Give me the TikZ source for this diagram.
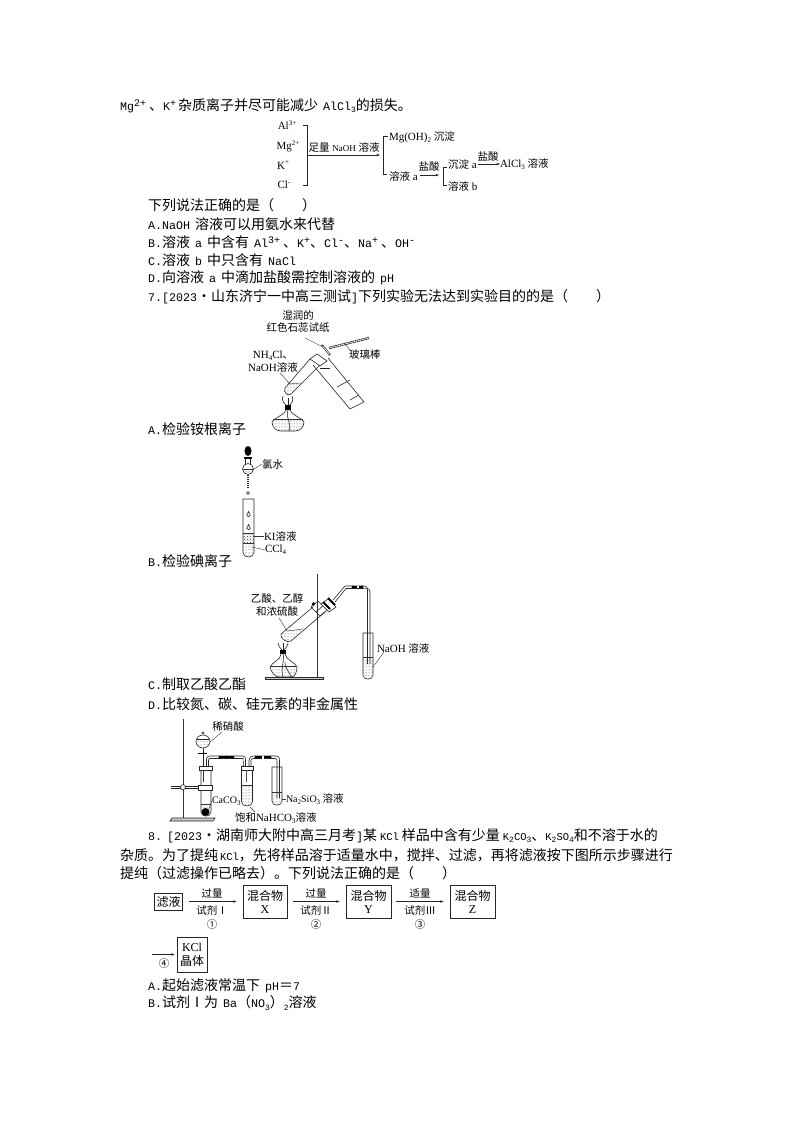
\documentclass[tikz,border=0pt]{standalone}
\usepackage{fontspec}
\usetikzlibrary{arrows.meta,patterns}
\newfontfamily\cjkf{Noto Sans CJK SC}
\newfontfamily\monof{Liberation Mono}
\newfontfamily\serf{Liberation Serif}
\newcommand\Bodyf{\fontsize{11.67}{14}\selectfont\monof\spaceskip=5pt\relax}
\newcommand\Labf{\fontsize{11}{12}\selectfont\serf}
\newcommand\Smf{\fontsize{10}{11}\selectfont\serf}
\newcommand\Up[1]{\raisebox{.36em}{\fontsize{10}{10}\selectfont #1}}
\newcommand\Dn[1]{\raisebox{-.18em}{\fontsize{8}{8}\selectfont #1}}
\newcommand\Sm[1]{{\fontsize{10.5}{10}\selectfont #1}}
\newcommand\LUp[1]{\raisebox{.38em}{\fontsize{7}{7}\selectfont #1}}
\newcommand\LDn[1]{\raisebox{-.2em}{\fontsize{7}{7}\selectfont #1}}
\newcommand\ZB[1]{{\cjkf\fontsize{14}{14}\selectfont #1}}
\newcommand\ZL[1]{{\cjkf\fontsize{10.5}{12}\selectfont #1}}
\newcommand\ZM[1]{{\cjkf\fontsize{12}{15}\selectfont #1}}
\newcommand\SM[1]{{\serf\fontsize{12}{15}\selectfont #1}}
% vertical round-bottomed tube
\newcommand\VT[4]{\draw[ln] (#1-#4,#2) -- (#1-#4,#3-#4) .. controls (#1-#4,#3+.5) and (#1+#4,#3+.5) .. (#1+#4,#3-#4) -- (#1+#4,#2) -- cycle;}
\newcommand\VL[4]{\fill[dotsf] (#1-#4,#2) -- (#1-#4,#3-#4) .. controls (#1-#4,#3+.5) and (#1+#4,#3+.5) .. (#1+#4,#3-#4) -- (#1+#4,#2) -- cycle; \draw[thn] (#1-#4,#2) -- (#1+#4,#2);}
\tikzset{
 x=1pt,y=-1pt,
 tb/.style={anchor=west,inner sep=0pt,outer sep=0pt,font=\Bodyf},
 lb/.style={anchor=west,inner sep=0pt,outer sep=0pt,font=\Labf},
 lc/.style={anchor=center,inner sep=0pt,outer sep=0pt,font=\Labf},
 ln/.style={line width=.6pt,black!85},
 thn/.style={line width=.4pt,black!80},
 arr/.style={line width=.5pt,black!85,-{Stealth[length=3.5pt,width=2.5pt]}},
 bx/.style={draw=black!85,line width=.8pt,inner sep=0pt,align=center},
 rub/.style={line width=2pt,black},
 dotsf/.style={pattern=dots,pattern color=black!75}
}
\begin{document}
\begin{tikzpicture}
\useasboundingbox[fill=white] (0,0) rectangle (794,1123);
% --- body text
\node[tb] (t1) at (120,106) {Mg\Up{2+}\hspace{3pt}\ZB{、}K\Up{+}\hspace{2pt}\ZB{杂质离子并尽可能减少} AlCl\Dn{3}\ZB{的损失。}};
\node[tb] (t2) at (148,205) {\ZB{下列说法正确的是（\hspace{28pt}）}};
\node[tb] (t3) at (148,224) {A.NaOH \ZB{溶液可以用氨水来代替}};
\node[tb] (t4) at (148,242) {B.\ZB{溶液} a \ZB{中含有} Al\Up{3+}\hspace{3pt}\ZB{、}K\Up{+}\ZB{、}Cl\Up{-}\ZB{、}Na\Up{+}\hspace{3pt}\ZB{、}OH\Up{-}};
\node[tb] (t5) at (148,260) {C.\ZB{溶液} b \ZB{中只含有} NaCl};
\node[tb] (t6) at (148,278) {D.\ZB{向溶液} a \ZB{中滴加盐酸需控制溶液的} pH};
\node[tb] (t7) at (148,297) {7.[2023\ZB{·山东济宁一中高三测试}]\ZB{下列实验无法达到实验目的的是（\hspace{28pt}）}};
\node[tb] (t8) at (148,429) {A.\ZB{检验铵根离子}};
\node[tb] (t9) at (148,561) {B.\ZB{检验碘离子}};
\node[tb] (t10) at (148,684) {C.\ZB{制取乙酸乙酯}};
\node[tb] (t11) at (148,704) {D.\ZB{比较氮、碳、硅元素的非金属性}};
\node[tb] (t12) at (148,836) {8.\hspace{5pt}[2023\ZB{·湖南师大附中高三月考}]\ZB{某}\hspace{3pt}\Sm{KCl}\hspace{3pt}\ZB{样品中含有少量}\hspace{3pt}\Sm{K\Dn{2}CO\Dn{3}}\ZB{、}\Sm{K\Dn{2}SO\Dn{4}}\ZB{和不溶于水的}};
\node[tb] (t13) at (120,855) {\ZB{杂质。为了提纯}\hspace{2pt}\Sm{KCl}\ZB{，先将样品溶于适量水中，搅拌、过滤，再将滤液按下图所示步骤进行}};
\node[tb] (t14) at (120,873) {\ZB{提纯（过滤操作已略去）。下列说法正确的是（\hspace{28pt}）}};
\node[tb] (t15) at (148,986) {A.\ZB{起始滤液常温下} pH\ZB{＝}7};
\node[tb] (t16) at (148,1003) {B.\ZB{试剂Ⅰ为} Ba\ZB{（}NO\Dn{3}\ZB{）}\Dn{2}\ZB{溶液}};
% --- flow 1
\node[lc] (a1) at (287,125) {Al\LUp{3+}};
\node[lc] (a2) at (288,146) {Mg\LUp{2+}};
\node[lc] (a3) at (283,165) {K\LUp{+}};
\node[lc] (a4) at (284,185) {Cl\LUp{-}};
\coordinate (bt) at (307,125); \coordinate (bb) at (307,185); \coordinate (bm) at (307,155);
\draw[ln] (303,125) -- (bt) -- (bb) -- (303,185);
\node[lc] (f1) at (344,147) {\ZL{足量} {\fontsize{9}{9}\selectfont NaOH} \ZL{溶液}};
\node[lb] (m1) at (389,137) {Mg(OH)\LDn{2} \ZL{沉淀}};
\node[lb] (s1) at (389,176) {\ZL{溶液} a};
\draw[arr] (bm) -- (380,155);
\draw[ln] (388,136) -- (383,136) -- (383,174) -- (387,174);
\node[lc] (y1) at (429,167) {\ZL{盐酸}};
\coordinate (q1) at (420,175);
\draw[arr] (q1) -- (439,175);
\draw[ln] (447,167) -- (443,167) -- (443,185) -- (447,185);
\node[lb] (s2) at (448,164) {\ZL{沉淀} a};
\node[lb] (s3) at (448,186) {\ZL{溶液} b};
\node[lc] (y2) at (488,157) {\ZL{盐酸}};
\node[lb] (s4) at (500,164) {AlCl\LDn{3} \ZL{溶液}};
\coordinate (q2) at (478,164);
\draw[arr] (q2) -- (s4.west);
% --- apparatus A
\node[lc] (la1) at (298,315) {\ZL{湿润的}};
\node[lc] (la2) at (298,328) {\ZL{红色石蕊试纸}};
\node[lc] (la3) at (273,356) {NH\LDn{4}Cl\ZL{、}};
\node[lc] (la4) at (273,367) {NaOH\ZL{溶液}};
\node[lb] (la5) at (349,354) {\ZL{玻璃棒}};
% tube 1 liquid and walls
\fill[dotsf] (288,384) -- (302,383) -- (291,394) .. controls (288,397) and (283,392) .. (285,388) -- cycle;
\draw[thn] (288,384) -- (302,383);
\draw[ln] (310,359) -- (285,388) .. controls (283,392) and (288,397) .. (291,394) -- (320,365);
% tube 2
\draw[ln] (313,365) -- (350,409) -- (364,402) -- (328,358);
\draw[ln] (337,387) -- (350,380);
\draw[ln] (350,400) -- (359,395);
\draw[ln] (320,368) -- (330,368);
% mouth band
\draw[ln] (310,359) -- (317,354) -- (327,361) -- (320,366) -- cycle;
% rod and paper
\draw[line width=2.4pt,black!85,dash pattern=on 1.6pt off .6pt] (329,348) -- (369,338);
\draw[line width=.6pt,white] (329,348) -- (369,338);
\draw[line width=2pt,black!85] (322,345) -- (330,355);
\draw[line width=.7pt,white] (322.6,345.8) -- (329.4,354.2);
\draw[thn] (305,338) -- (323,347);
\draw[thn] (280,373) -- (290,384);
\draw[thn] (344,343) -- (350,350);
% flame and lamp A
\draw[ln] (283,396) .. controls (281,400) and (284,403) .. (286,405);
\draw[ln] (292,396) .. controls (294,400) and (292,403) .. (290,405);
\draw[ln] (288,398) -- (288,405);
\fill[black] (285,405) rectangle (291,410);
\draw[ln] (286,410) .. controls (285,415) and (275,417) .. (272,422) .. controls (272,427) and (276,431) .. (281,431) -- (295,431) .. controls (300,431) and (304,427) .. (304,422) .. controls (301,417) and (291,415) .. (290,410);
\fill[dotsf] (273,419) -- (303,419) -- (304,422) .. controls (304,427) and (300,431) .. (295,431) -- (281,431) .. controls (276,431) and (272,427) .. (272,422) -- cycle;
\draw[thn] (273,419) -- (303,419);
\draw[ln] (288,410) .. controls (285,418) and (292,422) .. (289,431);
% --- apparatus B
\fill[black] (248,451) ellipse [x radius=3.5pt,y radius=5pt];
\fill[black] (244,457) rectangle (252,459);
\draw[ln] (245.5,459) -- (245.5,464); \draw[ln] (250.5,459) -- (250.5,464);
\draw[ln] (248,469) circle [radius=5.5pt];
\fill[dotsf] (242.5,469) -- (253.5,469) .. controls (253.5,476) and (242.5,476) .. (242.5,469) -- cycle;
\draw[thn] (242.5,469) -- (253.5,469);
\draw[line width=2.2pt,black!85,dash pattern=on 1.2pt off .8pt] (248,475) -- (248,488);
\draw[ln] (248,493) circle [radius=1.5pt];
\node[lb] (lb1) at (262,464) {\ZL{氯水}};
\node[lb] (lb2) at (264,536) {KI\ZL{溶液}};
\node[lb] (lb3) at (265,550) {CCl\LDn{4}};
\draw[thn] (254,469) -- (lb1.west);
\draw[thn] (254,536) -- (lb2.west);
\draw[thn] (252,547) -- (lb3.west);
\fill[pattern=crosshatch dots,pattern color=black!80] (243,533) rectangle (254,543);
\fill[dotsf] (243,543) -- (243,553) .. controls (243,559) and (254,559) .. (254,553) -- (254,543) -- cycle;
\VT{248.5}{499}{558}{5.5}
\draw[thn] (243,533) -- (254,533);
\draw[thn] (243,543) -- (254,543);
\draw[ln] (248.5,511.5) -- (246.7,515.5) .. controls (246.7,517) and (250.3,517) .. (250.3,515.5) -- cycle;
\draw[ln] (248.5,524.5) -- (246.7,528.5) .. controls (246.7,530) and (250.3,530) .. (250.3,528.5) -- cycle;
% --- apparatus C
\draw[line width=1pt,black!80] (317,574) -- (317,677);
\draw[ln,fill=black!20] (265,677) rectangle (323,679);
\node[lc] (lc1) at (277,598) {\ZL{乙酸、乙醇}};
\node[lc] (lc2) at (277,611) {\ZL{和浓硫酸}};
\node[lb] (lc3) at (377,648) {NaOH \ZL{溶液}};
\fill[dotsf] (287,631) -- (303,629) -- (291,641) .. controls (288,644) and (279,638) .. (281,634) -- cycle;
\draw[thn] (287,631) -- (303,629);
\draw[ln] (313,607) -- (281,634) .. controls (279,638) and (288,644) .. (291,641) -- (325,612);
% clamp
\fill[black] (313.5,604) circle [radius=1.8pt];
\draw[ln] (311,607) -- (318,601) -- (327,610) -- (320,616) -- cycle;
\draw[ln] (316,612) -- (324,605);
% stopper
\draw[ln,fill=white] (321,604) -- (328,599) -- (336,607) -- (329,612) -- cycle;
\draw[line width=1.8pt,black] (323,602) -- (330,609);
\draw[line width=1.8pt,black] (328,598) -- (335,605);
\draw[ln] (333,600) -- (345,586) -- (364,586) .. controls (367,586) and (367.5,587.5) .. (367.5,590) -- (367.5,664);
\draw[ln] (335,602) -- (346,588.5) -- (363,588.5) .. controls (365,588.5) and (370,587) .. (370,592) -- (370,664);
\draw[rub] (353,587) -- (362,587);
\fill[black] (353,587) circle [radius=1.6pt]; \fill[black] (362,587) circle [radius=1.6pt];
\fill[white] (356.5,586) rectangle (358.5,588);
\VL{368}{657}{680}{5}
\VT{368}{633}{680}{5}
\draw[thn] (279,618) -- (287,631);
\draw[thn] (384,652) -- (373,667);
% flame and lamp C
\draw[ln] (278,643) .. controls (279,648) and (281,648) .. (282,650);
\draw[ln] (288,643) .. controls (287,648) and (285,648) .. (284,650);
\draw[ln] (283,643) -- (283,650);
\fill[black] (280,650) rectangle (286,654);
\draw[ln] (281,654) .. controls (281,660) and (272,662) .. (270,667) .. controls (271,672) and (275,677) .. (279,677) -- (291,677) .. controls (295,677) and (297,672) .. (297,667) .. controls (295,662) and (286,660) .. (285,654);
\fill[dotsf] (271,666) -- (297,666) -- (297,667) .. controls (297,672) and (295,677) .. (291,677) -- (279,677) .. controls (275,677) and (271,672) .. (270,667) -- cycle;
\draw[thn] (271,666) -- (297,666);
\draw[ln] (283,654) .. controls (285,662) and (280,668) .. (283,677);
\draw[ln] (285,662) .. controls (284,668) and (290,672) .. (291,677);
% --- apparatus D
\draw[line width=1pt,black!80] (183,719) -- (183,818);
\draw[ln,fill=black!20] (172,818) -- (215,818) -- (213,821) -- (170,821) -- cycle;
\draw[ln] (171,786) -- (198,786); \draw[ln] (171,788.5) -- (198,788.5);
\draw[ln,fill=white] (183,787.2) circle [radius=2.5pt];
\fill[dotsf] (201,804) rectangle (211,814);
\draw[thn] (201,804) -- (211,804);
\fill[black] (205.5,812) circle [radius=4pt];
\VT{206}{767}{817}{5}
\draw[ln,fill=white] (198,785) rectangle (212,790);
\draw[ln,fill=white] (199,766) rectangle (212,770);
\draw[thn] (203,770) -- (203,782);
\draw[ln] (203,733) circle [radius=1.3pt];
\draw[ln] (203,741.5) ellipse [x radius=7pt,y radius=6.5pt];
\fill[dotsf] (196.5,741) -- (209.5,741) .. controls (209.5,750) and (196.5,750) .. (196.5,741) -- cycle;
\draw[ln] (197,739) -- (209,739);
\draw[ln] (203,748) -- (203,766);
\draw[line width=1pt] (198,753) -- (207,753);
\node[lc] (ld1) at (228,727) {\ZL{稀硝酸}};
\draw[thn] (210,742) -- (222,732);
\draw[ln] (206.5,766) -- (206.5,759) .. controls (206.5,757) and (208,756) .. (210,756) -- (243,756) .. controls (245.5,756) and (245.5,758) .. (245.5,762) -- (245.5,766);
\draw[ln] (208.5,766) -- (208.5,760) .. controls (208.5,758.5) and (209,758.5) .. (210,758.5) -- (243,758.5) -- (243.5,766);
\draw[rub] (220,757.3) -- (233,757.3);
\fill[black] (220,757.3) circle [radius=1.6pt]; \fill[black] (226.5,757.3) circle [radius=1.6pt]; \fill[black] (233,757.3) circle [radius=1.6pt];
\VL{247}{785}{807}{5.5}
\VT{247}{767}{807}{5.5}
\draw[ln,fill=white] (241,766) rectangle (253,770);
\draw[line width=1pt,black!70] (246.5,770) -- (246.5,782);
\draw[ln] (249,766) -- (249,760) .. controls (249,757) and (251,756) .. (254,756) -- (276,756) .. controls (279,756) and (279.5,757.5) .. (279.5,761) -- (279.5,798);
\draw[ln] (251,766) -- (251,760) .. controls (251,759) and (252,758.5) .. (254,758.5) -- (275,758.5) .. controls (277,758.5) and (277,759.5) .. (277,761) -- (277,798);
\draw[rub] (256,757.3) -- (270,757.3);
\fill[black] (256,757.3) circle [radius=1.6pt]; \fill[black] (270,757.3) circle [radius=1.6pt];
\fill[white] (262,756) rectangle (264,758.5);
\VL{277}{792}{806}{5}
\VT{277}{767}{806}{5}
\node[lb,font=\Smf] (ld2) at (212,801) {CaCO\LDn{3}};
\node[lb,font=\Smf] (ld3) at (286,799) {Na\LDn{2}SiO\LDn{3} \ZL{溶液}};
\node[lb] (ld4) at (235,818) {\ZL{饱和}NaHCO\LDn{3}\ZL{溶液}};
\draw[thn] (208,811) -- (ld2.west);
\draw[thn] (282,799) -- (ld3.west);
\draw[thn] (250,807) -- (255,812);
% --- flow 2
\node[bx,minimum width=28pt,minimum height=17pt] (b0) at (168.5,901.5) {\ZM{滤液}};
\node[bx,minimum width=44pt,minimum height=33pt] (bX) at (265,901.5) {\ZM{混合物}\\[1pt]\SM{X}};
\node[bx,minimum width=45pt,minimum height=33pt] (bY) at (368.5,901.5) {\ZM{混合物}\\[1pt]\SM{Y}};
\node[bx,minimum width=45pt,minimum height=33pt] (bZ) at (472.5,901.5) {\ZM{混合物}\\[1pt]\SM{Z}};
\node[bx,minimum width=30pt,minimum height=35pt] (bK) at (192,954.5) {\SM{KCl}\\[2pt]\ZM{晶体}};
\draw[arr,shorten <=6pt,shorten >=6pt] (b0.east) -- (bX.west);
\draw[arr,shorten <=6pt,shorten >=6pt] (bX.east) -- (bY.west);
\draw[arr,shorten <=5pt,shorten >=6pt] (bY.east) -- (bZ.west);
\coordinate (k0) at (152,954.5);
\draw[arr,shorten >=2pt] (k0) -- (bK.west);
\foreach \n/\xx/\tp/\rg/\ci in {A/212/过量/Ⅰ/①,B/316/过量/Ⅱ/②,C/420/适量/Ⅲ/③}{
 \node[lc] (g\n) at (\xx,893) {\ZL{\tp}};
 \node[lc] (r\n) at (\xx,910) {\ZL{试剂\rg}};
 \node[lc] (c\n) at (\xx,924) {\ZL{\ci}};
}
\node[lc] (cD) at (164,963) {\ZL{④}};
\end{tikzpicture}
\end{document}
